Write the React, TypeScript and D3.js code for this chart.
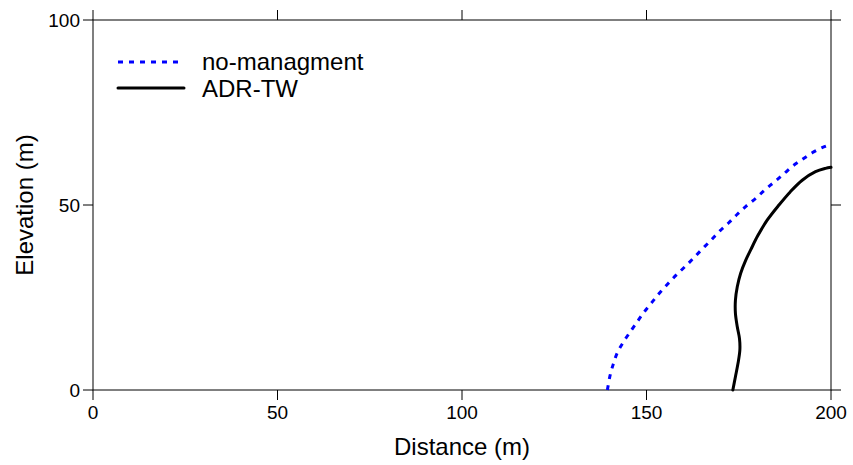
import React from "react";
import * as d3 from "d3";

// x ticks / y ticks
const xTicks = [0, 50, 100, 150, 200];
const yTicks = [0, 50, 100];

// no-managment profile (distance, elevation)
const noMgmtDist = [139.4, 140.1, 141.0, 142.1, 143.7, 145.5, 147.4, 149.3, 151.4, 153.6, 155.8, 158.1, 160.6, 162.9, 165.3, 167.7, 169.9, 172.3, 174.6, 177.0, 179.6, 182.0, 184.5, 187.0, 189.6, 192.2, 194.9, 197.6, 200.0];
const noMgmtElev = [0.0, 3.8, 7.0, 10.1, 12.9, 15.6, 18.3, 21.0, 23.6, 26.3, 28.7, 31.1, 33.5, 35.8, 38.3, 40.7, 43.0, 45.2, 47.5, 49.7, 51.8, 54.0, 56.1, 58.2, 60.5, 62.3, 64.1, 65.5, 66.4];

// ADR-TW profile
const adrDist = [173.4, 174.1, 174.8, 175.3, 175.2, 174.6, 174.1, 174.1, 174.6, 175.5, 176.9, 178.3, 180.1, 182.7, 185.9, 189.0, 192.2, 195.8, 198.5, 200.0];
const adrElev = [0.0, 3.6, 7.2, 10.8, 13.9, 17.1, 20.7, 24.3, 27.9, 31.5, 35.1, 38.0, 41.6, 45.9, 50.0, 53.6, 56.7, 59.0, 59.9, 60.2];

const seriesNames = ["no-managment", "ADR-TW"];

const W = 853;
const H = 465;
const margin = { top: 20, right: 22, bottom: 75, left: 93 };

const App = () => {
  const x = d3.scaleLinear().domain([0, 200]).range([margin.left, W - margin.right]);
  const y = d3.scaleLinear().domain([0, 100]).range([H - margin.bottom, margin.top]);

  const line = d3
    .line<[number, number]>()
    .x((d) => x(d[0]))
    .y((d) => y(d[1]))
    .curve(d3.curveCatmullRom.alpha(0.5));

  const noMgmt = noMgmtDist.map((d, i) => [d, noMgmtElev[i]] as [number, number]);
  const adr = adrDist.map((d, i) => [d, adrElev[i]] as [number, number]);

  const x0 = x(0), x1 = x(200), y0 = y(0), y1 = y(100);
  const tick = 10;
  const font = "Liberation Sans, Arial, sans-serif";

  return (
    <svg width={W} height={H} style={{ position: "absolute", left: 0, top: 0, background: "#fff" }} fontFamily={font}>
      {/* frame */}
      <rect x={x0} y={y1} width={x1 - x0} height={y0 - y1} fill="none" stroke="#000" strokeWidth={1} />

      {/* bottom + top ticks */}
      {xTicks.map((t) => (
        <g key={"x" + t}>
          <line x1={x(t)} x2={x(t)} y1={y0} y2={y0 + tick} stroke="#000" />
          <line x1={x(t)} x2={x(t)} y1={y1} y2={y1 - tick} stroke="#000" />
          <text x={x(t)} y={y0 + 29} textAnchor="middle" fontSize={19} fill="#000">
            {t}
          </text>
        </g>
      ))}

      {/* left + right ticks */}
      {yTicks.map((t) => (
        <g key={"y" + t}>
          <line x1={x0} x2={x0 - tick} y1={y(t)} y2={y(t)} stroke="#000" />
          <line x1={x1} x2={x1 + tick} y1={y(t)} y2={y(t)} stroke="#000" />
          <text x={x0 - 13} y={y(t) + 7} textAnchor="end" fontSize={19} fill="#000">
            {t}
          </text>
        </g>
      ))}

      {/* curves */}
      <path d={line(noMgmt) ?? ""} fill="none" stroke="#0000ff" strokeWidth={3} strokeDasharray="5,6" />
      <path d={line(adr) ?? ""} fill="none" stroke="#000" strokeWidth={3} strokeLinecap="round" />

      {/* axis titles */}
      <text x={(x0 + x1) / 2} y={H - 10} textAnchor="middle" fontSize={24} fill="#000">
        Distance (m)
      </text>
      <text transform={`translate(33, ${(y0 + y1) / 2}) rotate(-90)`} textAnchor="middle" fontSize={24} fill="#000">
        Elevation (m)
      </text>

      {/* legend */}
      <line x1={118} x2={184} y1={62} y2={62} stroke="#0000ff" strokeWidth={3} strokeDasharray="5,6" />
      <text x={202} y={69.5} fontSize={24} fill="#000">
        {seriesNames[0]}
      </text>
      <line x1={118} x2={184} y1={88} y2={88} stroke="#000" strokeWidth={3} strokeLinecap="round" />
      <text x={202} y={96.5} fontSize={24} fill="#000">
        {seriesNames[1]}
      </text>
    </svg>
  );
};

export default App;
